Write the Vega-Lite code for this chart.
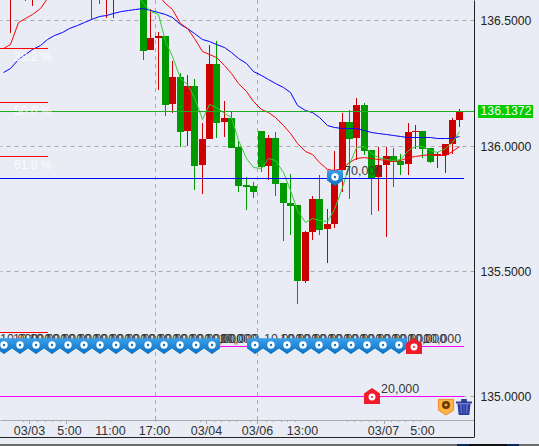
{"$schema":"https://vega.github.io/schema/vega-lite/v6.json","width":474,"height":437,"autosize":{"type":"none"},"padding":{"left":0,"top":0,"right":65,"bottom":9},"background":"#e9ecf4","config":{"view":{"stroke":null},"font":"Liberation Sans"},
"datasets":{
"candles":[
{"bar":1,"dir":"up","open":136.66,"close":136.7,"high":136.72,"low":136.4493},{"bar":3,"dir":"down","open":136.7,"close":136.66,"high":136.72,"low":136.577},{"bar":4,"dir":"up","open":136.66,"close":136.7,"high":136.72,"low":136.557},{"bar":12,"dir":"down","open":136.75,"close":136.7,"high":136.76,"low":136.501},{"bar":13,"dir":"down","open":136.7,"close":136.66,"high":136.72,"low":136.565},{"bar":14,"dir":"up","open":136.66,"close":136.7,"high":136.72,"low":136.509},{"bar":15,"dir":"up","open":136.66,"close":136.7,"high":136.72,"low":136.509},
{"bar":19,"dir":"down","open":136.7,"close":136.3775,"high":136.72,"low":136.3416},{"bar":20,"dir":"up","open":136.3815,"close":136.4294,"high":136.5451,"low":136.3815},{"bar":21,"dir":"up","open":136.4294,"close":136.4374,"high":136.4533,"low":136.2219},{"bar":22,"dir":"down","open":136.4374,"close":136.1621,"high":136.4374,"low":136.1182},{"bar":23,"dir":"up","open":136.166,"close":136.2738,"high":136.3376,"low":136.1301},{"bar":24,"dir":"down","open":136.2738,"close":136.0543,"high":136.2897,"low":135.9945},{"bar":25,"dir":"up","open":136.0583,"close":136.2379,"high":136.2818,"low":135.9985},{"bar":26,"dir":"down","open":136.2379,"close":135.9187,"high":136.2658,"low":135.8229},{"bar":27,"dir":"up","open":135.9227,"close":136.0264,"high":136.0902,"low":135.807},{"bar":28,"dir":"up","open":136.0264,"close":136.3256,"high":136.4015,"low":136.0264},{"bar":29,"dir":"down","open":136.3256,"close":136.0902,"high":136.4174,"low":136.0304},{"bar":30,"dir":"up","open":136.0942,"close":136.1102,"high":136.178,"low":136.0344},{"bar":31,"dir":"down","open":136.1102,"close":135.9905,"high":136.1381,"low":135.9905},{"bar":32,"dir":"down","open":135.9945,"close":135.8389,"high":136.0184,"low":135.815},{"bar":33,"dir":"down","open":135.8429,"close":135.8349,"high":135.8748,"low":135.7431},{"bar":34,"dir":"down","open":135.8389,"close":135.815,"high":135.8548,"low":135.791},{"bar":35,"dir":"down","open":136.0583,"close":135.9147,"high":136.0583,"low":135.8947},{"bar":36,"dir":"up","open":135.9187,"close":136.0304,"high":136.0423,"low":135.8628},{"bar":37,"dir":"down","open":136.0304,"close":135.8468,"high":136.0543,"low":135.799},{"bar":38,"dir":"down","open":135.8508,"close":135.771,"high":135.8508,"low":135.6194},{"bar":39,"dir":"down","open":135.771,"close":135.7591,"high":135.8867,"low":135.6434},{"bar":40,"dir":"down","open":135.763,"close":135.4598,"high":135.763,"low":135.368},{"bar":41,"dir":"up","open":135.4598,"close":135.6553,"high":135.6593,"low":135.4518},{"bar":42,"dir":"up","open":135.6553,"close":135.787,"high":135.799,"low":135.6234},{"bar":43,"dir":"down","open":135.787,"close":135.6633,"high":135.8828,"low":135.6434},{"bar":44,"dir":"up","open":135.6673,"close":135.6872,"high":135.7471,"low":135.5316},{"bar":45,"dir":"up","open":135.6872,"close":135.9027,"high":135.9785,"low":135.6713},{"bar":46,"dir":"up","open":135.9027,"close":136.0942,"high":136.1301,"low":135.815},{"bar":47,"dir":"down","open":136.0942,"close":136.0264,"high":136.1421,"low":135.787},{"bar":48,"dir":"up","open":136.0304,"close":136.162,"high":136.19,"low":135.9426},{"bar":49,"dir":"down","open":136.162,"close":135.9785,"high":136.17,"low":135.9626},{"bar":50,"dir":"down","open":135.9825,"close":135.8708,"high":135.9825,"low":135.7232},{"bar":51,"dir":"up","open":135.8748,"close":135.9227,"high":135.9945,"low":135.7391},{"bar":52,"dir":"up","open":135.9227,"close":135.9586,"high":135.9945,"low":135.6354},{"bar":53,"dir":"down","open":135.9586,"close":135.9346,"high":135.9905,"low":135.8349},{"bar":54,"dir":"down","open":135.9386,"close":135.9227,"high":135.9665,"low":135.8828},{"bar":55,"dir":"up","open":135.9266,"close":136.0543,"high":136.0902,"low":135.8828},{"bar":56,"dir":"up","open":136.0543,"close":136.0583,"high":136.0823,"low":135.9865},{"bar":57,"dir":"down","open":136.0583,"close":135.9865,"high":136.0583,"low":135.9506},{"bar":58,"dir":"down","open":135.9905,"close":135.9346,"high":135.9905,"low":135.9306},{"bar":59,"dir":"up","open":135.9586,"close":135.9665,"high":135.9745,"low":135.9107},{"bar":60,"dir":"up","open":135.9626,"close":136.0065,"high":136.0065,"low":135.8907},{"bar":61,"dir":"up","open":136.0065,"close":136.1022,"high":136.1102,"low":135.9665},{"bar":62,"dir":"up","open":136.1022,"close":136.1381,"high":136.146,"low":136.0743}],
"maLong":[{"bar":0,"price":136.294},{"bar":1,"price":136.31},{"bar":2,"price":136.346},{"bar":3,"price":136.366},{"bar":4,"price":136.386},{"bar":5,"price":136.401},{"bar":6,"price":136.425},{"bar":7,"price":136.441},{"bar":8,"price":136.453},{"bar":9,"price":136.469},{"bar":10,"price":136.481},{"bar":11,"price":136.493},{"bar":12,"price":136.505},{"bar":13,"price":136.517},{"bar":14,"price":136.521},{"bar":15,"price":136.529},{"bar":16,"price":136.537},{"bar":17,"price":136.543},{"bar":18,"price":136.547},{"bar":19,"price":136.549},{"bar":20,"price":136.541},{"bar":21,"price":136.533},{"bar":22,"price":136.525},{"bar":23,"price":136.513},{"bar":24,"price":136.485},{"bar":25,"price":136.469},{"bar":26,"price":136.449},{"bar":27,"price":136.425},{"bar":28,"price":136.417},{"bar":29,"price":136.405},{"bar":30,"price":136.393},{"bar":31,"price":136.373},{"bar":32,"price":136.35},{"bar":33,"price":136.33},{"bar":34,"price":136.298},{"bar":35,"price":136.282},{"bar":36,"price":136.266},{"bar":37,"price":136.25},{"bar":38,"price":136.234},{"bar":39,"price":136.214},{"bar":40,"price":136.162},{"bar":41,"price":136.142},{"bar":42,"price":136.134},{"bar":43,"price":136.114},{"bar":44,"price":136.082},{"bar":45,"price":136.074},{"bar":46,"price":136.07},{"bar":47,"price":136.07},{"bar":48,"price":136.07},{"bar":49,"price":136.062},{"bar":50,"price":136.054},{"bar":51,"price":136.05},{"bar":52,"price":136.046},{"bar":53,"price":136.042},{"bar":54,"price":136.038},{"bar":55,"price":136.034},{"bar":56,"price":136.034},{"bar":57,"price":136.034},{"bar":58,"price":136.034},{"bar":59,"price":136.03},{"bar":60,"price":136.03},{"bar":61,"price":136.03},{"bar":62,"price":136.038}],
"maMid":[{"bar":0,"price":136.39},{"bar":1,"price":136.405},{"bar":2,"price":136.493},{"bar":3,"price":136.509},{"bar":4,"price":136.525},{"bar":5,"price":136.549},{"bar":6,"price":136.589},{"bar":7,"price":136.621},{"bar":8,"price":136.645},{"bar":9,"price":136.661},{"bar":10,"price":136.677},{"bar":11,"price":136.685},{"bar":12,"price":136.693},{"bar":13,"price":136.697},{"bar":14,"price":136.701},{"bar":15,"price":136.701},{"bar":16,"price":136.697},{"bar":17,"price":136.689},{"bar":18,"price":136.677},{"bar":19,"price":136.661},{"bar":20,"price":136.637},{"bar":21,"price":136.601},{"bar":22,"price":136.569},{"bar":23,"price":136.545},{"bar":24,"price":136.489},{"bar":25,"price":136.469},{"bar":26,"price":136.429},{"bar":27,"price":136.378},{"bar":28,"price":136.366},{"bar":29,"price":136.354},{"bar":30,"price":136.322},{"bar":31,"price":136.29},{"bar":32,"price":136.25},{"bar":33,"price":136.218},{"bar":34,"price":136.178},{"bar":35,"price":136.146},{"bar":36,"price":136.134},{"bar":37,"price":136.114},{"bar":38,"price":136.082},{"bar":39,"price":136.05},{"bar":40,"price":136.01},{"bar":41,"price":135.978},{"bar":42,"price":135.966},{"bar":43,"price":135.935},{"bar":44,"price":135.907},{"bar":45,"price":135.903},{"bar":46,"price":135.911},{"bar":47,"price":135.935},{"bar":48,"price":135.951},{"bar":49,"price":135.955},{"bar":50,"price":135.951},{"bar":51,"price":135.947},{"bar":52,"price":135.943},{"bar":53,"price":135.939},{"bar":54,"price":135.943},{"bar":55,"price":135.955},{"bar":56,"price":135.959},{"bar":57,"price":135.963},{"bar":58,"price":135.966},{"bar":59,"price":135.963},{"bar":60,"price":135.963},{"bar":61,"price":135.978},{"bar":62,"price":135.998}],
"maShort":[{"bar":18,"price":136.613},{"bar":19,"price":136.569},{"bar":20,"price":136.537},{"bar":21,"price":136.525},{"bar":22,"price":136.417},{"bar":23,"price":136.358},{"bar":24,"price":136.27},{"bar":25,"price":136.246},{"bar":26,"price":136.194},{"bar":27,"price":136.106},{"bar":28,"price":136.166},{"bar":29,"price":136.154},{"bar":30,"price":136.13},{"bar":31,"price":136.114},{"bar":32,"price":136.022},{"bar":33,"price":135.951},{"bar":34,"price":135.915},{"bar":35,"price":135.911},{"bar":36,"price":135.951},{"bar":37,"price":135.943},{"bar":38,"price":135.895},{"bar":39,"price":135.823},{"bar":40,"price":135.743},{"bar":41,"price":135.695},{"bar":42,"price":135.711},{"bar":43,"price":135.703},{"bar":44,"price":135.699},{"bar":45,"price":135.747},{"bar":46,"price":135.835},{"bar":47,"price":135.927},{"bar":48,"price":135.995},{"bar":49,"price":135.998},{"bar":50,"price":135.971},{"bar":51,"price":135.955},{"bar":52,"price":135.947},{"bar":53,"price":135.943},{"bar":54,"price":135.947},{"bar":55,"price":135.982},{"bar":56,"price":135.998},{"bar":57,"price":135.998},{"bar":58,"price":135.982},{"bar":59,"price":135.974},{"bar":60,"price":135.99},{"bar":61,"price":136.014},{"bar":62,"price":136.058}],
"levels":[{"kind":"fib","bar":-0.4,"bar2":6.12,"price":136.3895},{"kind":"fib","bar":-0.4,"bar2":6.12,"price":136.173},{"kind":"fib","bar":-0.4,"bar2":6.12,"price":135.9586},{"kind":"fib","bar":-0.4,"bar2":6.12,"price":135.2542},{"kind":"last","bar":-0.4,"bar2":64,"price":136.1372},{"kind":"position","bar":-0.4,"bar2":62.65,"price":135.87},{"kind":"order","bar":-0.4,"bar2":62.65,"price":135.2},{"kind":"order","bar":-0.4,"bar2":62.65,"price":135.0}],
"fibText":[{"bar":1.5,"price":136.3895,"label":"38.2 %"},{"bar":1.5,"price":136.173,"label":"50.0 %"},{"bar":1.5,"price":135.9586,"label":"61.8 %"},{"bar":1.5,"price":135.2542,"label":"100.0 %"}],
"vgrid":[{"bar":20.62,"price":134.905,"price2":136.581},{"bar":34.56,"price":134.905,"price2":136.581}],
"ticks":[{"bar":2.685,"price":134.905,"price2":134.895},{"bar":3.582,"price":134.905,"price2":134.887},{"bar":4.628,"price":134.905,"price2":134.895},{"bar":5.674,"price":134.905,"price2":134.895},{"bar":6.666,"price":134.905,"price2":134.895},{"bar":7.753,"price":134.905,"price2":134.895},{"bar":8.609,"price":134.905,"price2":134.887},{"bar":14.587,"price":134.905,"price2":134.895},{"bar":20.62,"price":134.905,"price2":134.895},{"bar":26.774,"price":134.905,"price2":134.895},{"bar":27.59,"price":134.905,"price2":134.887},{"bar":28.677,"price":134.905,"price2":134.895},{"bar":29.628,"price":134.905,"price2":134.895},{"bar":30.674,"price":134.905,"price2":134.895},{"bar":31.666,"price":134.905,"price2":134.895},{"bar":33.568,"price":134.905,"price2":134.895},{"bar":34.56,"price":134.905,"price2":134.887},{"bar":35.7,"price":134.905,"price2":134.895},{"bar":36.69,"price":134.905,"price2":134.895},{"bar":37.74,"price":134.905,"price2":134.895},{"bar":38.64,"price":134.905,"price2":134.895},{"bar":39.68,"price":134.905,"price2":134.895},{"bar":46.71,"price":134.905,"price2":134.895},{"bar":47.7,"price":134.905,"price2":134.895},{"bar":48.69,"price":134.905,"price2":134.895},{"bar":49.7,"price":134.905,"price2":134.895},{"bar":50.7,"price":134.905,"price2":134.895},{"bar":51.78,"price":134.905,"price2":134.887},{"bar":52.68,"price":134.905,"price2":134.895},{"bar":53.68,"price":134.905,"price2":134.895},{"bar":54.67,"price":134.905,"price2":134.895},{"bar":55.67,"price":134.905,"price2":134.895},{"bar":56.67,"price":134.905,"price2":134.895}],
"pins":[{"bar":0.103,"price":135.2},{"bar":2.277,"price":135.2},{"bar":4.451,"price":135.2},{"bar":6.625,"price":135.2},{"bar":8.799,"price":135.2},{"bar":10.973,"price":135.2},{"bar":13.147,"price":135.2},{"bar":15.321,"price":135.2},{"bar":17.495,"price":135.2},{"bar":19.668,"price":135.2},{"bar":21.842,"price":135.2},{"bar":24.016,"price":135.2},{"bar":26.19,"price":135.2},{"bar":28.364,"price":135.2},{"bar":34.207,"price":135.2},{"bar":36.38,"price":135.2},{"bar":38.554,"price":135.2},{"bar":40.728,"price":135.2},{"bar":42.902,"price":135.2},{"bar":45.076,"price":135.2},{"bar":47.25,"price":135.2},{"bar":49.424,"price":135.2},{"bar":51.598,"price":135.2},{"bar":53.772,"price":135.2},{"bar":45.12,"price":135.87}],
"houses":[{"bar":55.85,"price":135.2},{"bar":50.146,"price":135.0}],
"orderText":[{"bar":-1.62,"price":135.2,"label":"10,000"},{"bar":0.103,"price":135.2,"label":"10,000"},{"bar":2.277,"price":135.2,"label":"10,000"},{"bar":4.451,"price":135.2,"label":"10,000"},{"bar":6.625,"price":135.2,"label":"10,000"},{"bar":8.799,"price":135.2,"label":"10,000"},{"bar":10.973,"price":135.2,"label":"10,000"},{"bar":13.147,"price":135.2,"label":"10,000"},{"bar":15.321,"price":135.2,"label":"10,000"},{"bar":17.495,"price":135.2,"label":"10,000"},{"bar":19.668,"price":135.2,"label":"10,000"},{"bar":21.842,"price":135.2,"label":"10,000"},{"bar":24.016,"price":135.2,"label":"10,000"},{"bar":26.19,"price":135.2,"label":"10,000"},{"bar":28.364,"price":135.2,"label":"10,000"},{"bar":28.1,"price":135.2,"label":"10,000"},{"bar":34.207,"price":135.2,"label":"10,000"},{"bar":36.38,"price":135.2,"label":"10,000"},{"bar":38.554,"price":135.2,"label":"10,000"},{"bar":40.728,"price":135.2,"label":"10,000"},{"bar":42.902,"price":135.2,"label":"10,000"},{"bar":45.076,"price":135.2,"label":"10,000"},{"bar":47.25,"price":135.2,"label":"10,000"},{"bar":49.424,"price":135.2,"label":"10,000"},{"bar":51.598,"price":135.2,"label":"10,000"},{"bar":53.772,"price":135.2,"label":"10,000"},{"bar":55.85,"price":135.2,"label":"10,000"},{"bar":45.12,"price":135.87,"label":"70,000"},{"bar":50.146,"price":135.0,"label":"20,000"}],
"boxes":[{"kind":"tag","bar":64.59,"bar2":72.02,"price":136.162,"price2":136.1114},{"kind":"gray","bar":-0.4,"bar2":72.9,"price":134.809,"price2":134.78},{"kind":"navy","bar":61.65,"bar2":70.12,"price":134.809,"price2":134.78},{"kind":"black","bar":63.3,"bar2":68.5,"price":134.809,"price2":134.78}],
"tagText":[{"bar":68.35,"price":136.1372,"label":"136.1372"}],
"frame":[{"bar":-0.4,"bar2":64,"price":134.837}],
"icons":[{"bar":60.2,"price":134.956}],
"trash":[{"bar":62.65,"price":134.956}]
},
"layer":[
{"data":{"name":"vgrid"},"mark":{"type":"rule","stroke":"#aaaaaa","strokeWidth":1,"strokeDash":[4,4],"xOffset":0.5},"encoding":{
"x":{"field":"bar","type":"quantitative","title":null,"scale":{"domain":[-0.4,64],"round":true,"nice":false,"zero":false,"padding":0},"axis":{"orient":"bottom","offset":-17,"title":null,"grid":false,"ticks":false,"domainColor":"#aaaaaa","domainWidth":1,"labelFontSize":12.5,"labelColor":"#333333","labelPadding":4,"labelFlush":false,"labelOverlap":false,"labelBound":false,"labelFont":"Liberation Sans","values":[3.54,8.93,14.59,20.52,27.59,34.52,40.63,51.64,56.9],"labelExpr":"{'3.54':'03/03','8.93':'5:00','14.59':'11:00','20.52':'17:00','27.59':'03/04','34.52':'03/06','40.63':'13:00','51.64':'03/07','56.9':'5:00'}[''+datum.value]"}},
"y":{"field":"price","type":"quantitative","title":null,"scale":{"domain":[134.837,136.581],"round":true,"nice":false,"zero":false},"axis":{"orient":"right","title":null,"values":[135,135.5,136,136.5],"format":".4f","ticks":false,"grid":true,"gridColor":"#aaaaaa","gridDash":[4,4],"gridWidth":1,"domainColor":"#222222","domainWidth":1,"labelFontSize":12.2,"labelColor":"#222222","labelPadding":6,"labelFont":"Liberation Sans"}},
"y2":{"field":"price2"}}},
{"data":{"name":"ticks"},"mark":{"type":"rule","stroke":"#aaaaaa","strokeWidth":1,"xOffset":0.5},"encoding":{"x":{"field":"bar","type":"quantitative"},"y":{"field":"price","type":"quantitative"},"y2":{"field":"price2"}}},
{"data":{"name":"candles"},"mark":{"type":"rule","strokeWidth":1,"xOffset":0.5},"encoding":{"x":{"field":"bar","type":"quantitative"},"y":{"field":"low","type":"quantitative"},"y2":{"field":"high"},"color":{"field":"dir","type":"nominal","legend":null,"scale":{"domain":["up","down"],"range":["#cc0000","#009900"]}}}},
{"data":{"name":"candles"},"mark":{"type":"bar","size":7,"orient":"vertical","xOffset":0.5},"encoding":{"x":{"field":"bar","type":"quantitative"},"y":{"field":"open","type":"quantitative"},"y2":{"field":"close"},"color":{"field":"dir","type":"nominal","legend":null,"scale":{"domain":["up","down"],"range":["#cc0000","#009900"]}}}},
{"data":{"name":"maLong"},"mark":{"type":"line","stroke":"#0000ff","strokeWidth":1,"xOffset":0.5,"yOffset":0.5},"encoding":{"x":{"field":"bar","type":"quantitative"},"y":{"field":"price","type":"quantitative"}}},
{"data":{"name":"maMid"},"mark":{"type":"line","stroke":"#ff0000","strokeWidth":1,"xOffset":0.5,"yOffset":0.5},"encoding":{"x":{"field":"bar","type":"quantitative"},"y":{"field":"price","type":"quantitative"}}},
{"data":{"name":"maShort"},"mark":{"type":"line","stroke":"#33cc33","strokeWidth":1,"xOffset":0.5,"yOffset":0.5},"encoding":{"x":{"field":"bar","type":"quantitative"},"y":{"field":"price","type":"quantitative"}}},
{"data":{"name":"levels"},"transform":[{"filter":"datum.kind==='fib'"}],"mark":{"type":"rule","stroke":"#ff0000","strokeWidth":1,"yOffset":0.5},"encoding":{"x":{"field":"bar","type":"quantitative"},"x2":{"field":"bar2"},"y":{"field":"price","type":"quantitative"}}},
{"data":{"name":"levels"},"transform":[{"filter":"datum.kind==='last'"}],"mark":{"type":"rule","stroke":"#22aa22","strokeWidth":1,"yOffset":0.5},"encoding":{"x":{"field":"bar","type":"quantitative"},"x2":{"field":"bar2"},"y":{"field":"price","type":"quantitative"}}},
{"data":{"name":"levels"},"transform":[{"filter":"datum.kind==='position'"}],"mark":{"type":"rule","stroke":"#0000ff","strokeWidth":1,"yOffset":0.5},"encoding":{"x":{"field":"bar","type":"quantitative"},"x2":{"field":"bar2"},"y":{"field":"price","type":"quantitative"}}},
{"data":{"name":"levels"},"transform":[{"filter":"datum.kind==='order'"}],"mark":{"type":"rule","stroke":"#ff00ff","strokeWidth":1,"yOffset":0.5},"encoding":{"x":{"field":"bar","type":"quantitative"},"x2":{"field":"bar2"},"y":{"field":"price","type":"quantitative"}}},
{"data":{"name":"frame"},"mark":{"type":"rule","stroke":"#222222","strokeWidth":1,"yOffset":0.5},"encoding":{"x":{"field":"bar","type":"quantitative"},"x2":{"field":"bar2"},"y":{"field":"price","type":"quantitative"}}},
{"data":{"name":"fibText"},"mark":{"type":"text","align":"left","baseline":"middle","dy":9,"fontSize":12,"fill":"#ffffff","opacity":0.85,"font":"Liberation Sans"},"encoding":{"x":{"field":"bar","type":"quantitative"},"y":{"field":"price","type":"quantitative"},"text":{"field":"label"}}},
{"data":{"name":"orderText"},"mark":{"type":"text","align":"left","baseline":"middle","dx":9,"dy":-7,"fontSize":12.5,"fill":"#3a3a3a","font":"Liberation Sans"},"encoding":{"x":{"field":"bar","type":"quantitative"},"y":{"field":"price","type":"quantitative"},"text":{"field":"label"}}},
{"data":{"name":"pins"},"mark":{"type":"point","filled":true,"size":256,"opacity":1,"shape":"M-1,-0.96 L1,-0.96 L1,0.3 L0,1 L-1,0.3 Z","fill":{"gradient":"linear","x1":0,"y1":0,"x2":0,"y2":1,"stops":[{"offset":0,"color":"#3aa0ea"},{"offset":1,"color":"#0a6fc2"}]}},"encoding":{"x":{"field":"bar","type":"quantitative"},"y":{"field":"price","type":"quantitative"}}},
{"data":{"name":"pins"},"mark":{"type":"point","size":24,"opacity":1,"shape":"circle","fill":"#1a78c8","stroke":"#ffffff","strokeWidth":2.5,"yOffset":-1},"encoding":{"x":{"field":"bar","type":"quantitative"},"y":{"field":"price","type":"quantitative"}}},
{"data":{"name":"houses"},"mark":{"type":"point","filled":true,"size":256,"opacity":1,"shape":"M-1,1 L1,1 L1,-0.3 L0,-1 L-1,-0.3 Z","fill":"#f01c2c"},"encoding":{"x":{"field":"bar","type":"quantitative"},"y":{"field":"price","type":"quantitative"}}},
{"data":{"name":"houses"},"mark":{"type":"point","size":20,"opacity":1,"shape":"circle","fill":"#e01828","stroke":"#ffffff","strokeWidth":2.5,"yOffset":1},"encoding":{"x":{"field":"bar","type":"quantitative"},"y":{"field":"price","type":"quantitative"}}},
{"data":{"name":"icons"},"mark":{"type":"point","size":256,"opacity":1,"shape":"M-0.95,-0.95 L0.95,-0.95 L0.95,0.4 L0,1 L-0.95,0.4 Z","fill":"#ffb347","stroke":"#f08a28","strokeWidth":1},"encoding":{"x":{"field":"bar","type":"quantitative"},"y":{"field":"price","type":"quantitative"}}},
{"data":{"name":"icons"},"mark":{"type":"point","size":30,"opacity":1,"shape":"circle","fill":"#ffb347","stroke":"#6b3a00","strokeWidth":2.5,"yOffset":-2},"encoding":{"x":{"field":"bar","type":"quantitative"},"y":{"field":"price","type":"quantitative"}}},
{"data":{"name":"trash"},"mark":{"type":"point","filled":true,"size":256,"opacity":1,"shape":"M-0.8,-0.4 L0.8,-0.4 L0.65,1 L-0.65,1 Z","fill":"#5e6cc8"},"encoding":{"x":{"field":"bar","type":"quantitative"},"y":{"field":"price","type":"quantitative"}}},
{"data":{"name":"trash"},"mark":{"type":"point","filled":true,"size":256,"opacity":1,"shape":"M-1,-0.7 L-0.35,-0.7 L-0.35,-1 L0.35,-1 L0.35,-0.7 L1,-0.7 L1,-0.45 L-1,-0.45 Z M-0.8,-0.35 L-0.5,-0.35 L-0.42,0.8 L-0.66,0.8 Z M-0.26,-0.35 L-0.06,-0.35 L-0.06,0.8 L-0.26,0.8 Z M0.06,-0.35 L0.26,-0.35 L0.26,0.8 L0.06,0.8 Z M0.5,-0.35 L0.8,-0.35 L0.66,0.8 L0.42,0.8 Z M-0.65,0.8 L0.65,0.8 L0.65,1 L-0.65,1 Z","fill":"#2c3ca0"},"encoding":{"x":{"field":"bar","type":"quantitative"},"y":{"field":"price","type":"quantitative"}}},
{"data":{"name":"boxes"},"mark":{"type":"rect"},"encoding":{"x":{"field":"bar","type":"quantitative"},"x2":{"field":"bar2"},"y":{"field":"price","type":"quantitative"},"y2":{"field":"price2"},"color":{"field":"kind","type":"nominal","legend":null,"sort":null,"scale":{"domain":["tag","gray","navy","black"],"range":["#00cc00","#6b6b6b","#0a2a5a","#111111"]}}}},
{"data":{"name":"tagText"},"mark":{"type":"text","align":"center","baseline":"middle","fontSize":12.2,"fill":"#ffffff","font":"Liberation Sans"},"encoding":{"x":{"field":"bar","type":"quantitative"},"y":{"field":"price","type":"quantitative"},"text":{"field":"label"}}}
],
"resolve":{"scale":{"color":"independent"}}
}
